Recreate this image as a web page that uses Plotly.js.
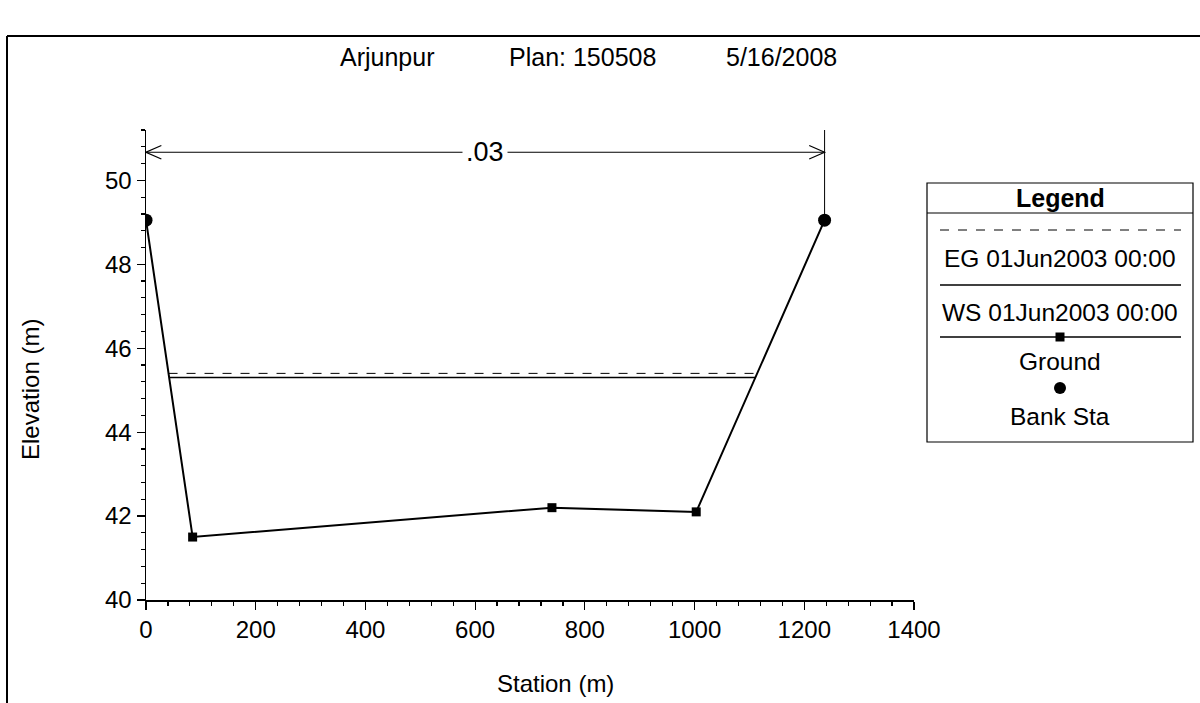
<!DOCTYPE html>
<html>
<head>
<meta charset="utf-8">
<script src="https://cdn.plot.ly/plotly-3.0.1.min.js"></script>
<style>html,body{margin:0;padding:0;background:#fff;}#chart{width:1200px;height:703px;}</style>
</head>
<body>
<div id="chart"></div>
<script>
// ---- data ----
const stations = [0, 85, 740, 1003, 1237];
const groundElev = [49.05, 41.5, 42.2, 42.1, 49.05];
const bankStations = [0, 1237];
const bankElev = [49.05, 49.05];
const wsElev = 45.3;
const egElev = 45.4;
const nValueLabel = ".03";
const nArrowElev = 50.67;
const xTickVals = [0, 200, 400, 600, 800, 1000, 1200, 1400];
const yTickVals = [40, 42, 44, 46, 48, 50];
const titleParts = ["Arjunpur", "Plan: 150508", "5/16/2008"];
const legendLabels = ["EG 01Jun2003 00:00", "WS 01Jun2003 00:00", "Ground", "Bank Sta"];

// ---- helpers ----
function crossings(level) {
  const pts = [];
  for (let i = 0; i < stations.length - 1; i++) {
    const z0 = groundElev[i], z1 = groundElev[i + 1];
    if ((z0 - level) * (z1 - level) <= 0 && z0 !== z1) {
      const t = (level - z0) / (z1 - z0);
      pts.push(stations[i] + t * (stations[i + 1] - stations[i]));
    }
  }
  return [Math.min(...pts), Math.max(...pts)];
}
const wsX = crossings(wsElev);
const egX = crossings(egElev);

const FONT = "Liberation Sans, Arial, sans-serif";
// pixel -> paper helpers (plot area: x 146..914, y 130..600)
const L = 146, R = 914, T = 130, B = 600;
const px = p => (p - L) / (R - L);
const py = p => (B - p) / (B - T);

const traces = [
  { x: egX, y: [egElev, egElev], mode: "lines", line: { color: "#000", width: 1, dash: "dash" }, hoverinfo: "skip" },
  { x: wsX, y: [wsElev, wsElev], mode: "lines", line: { color: "#000", width: 1.5 }, hoverinfo: "skip" },
  { x: stations, y: groundElev, mode: "lines+markers", line: { color: "#000", width: 2 },
    marker: { symbol: "square", size: 9, color: "#000" }, hoverinfo: "skip" },
  { x: bankStations, y: bankElev, mode: "markers", marker: { symbol: "circle", size: 13, color: "#000" }, hoverinfo: "skip" }
];

const shapes = [];
const annotations = [];
function note(x, y, text, size, extra) {
  annotations.push(Object.assign({ xref: "paper", yref: "paper", x: x, y: y, text: text, showarrow: false,
    xanchor: "center", yanchor: "middle", font: { family: FONT, size: size, color: "#000" } }, extra || {}));
}

// Manning's n arrow line
const nMid = (bankStations[0] + bankStations[1]) / 2;
shapes.push({ type: "line", xref: "x", yref: "y", x0: bankStations[0], x1: bankStations[1], y0: nArrowElev, y1: nArrowElev, line: { color: "#000", width: 1.2 } });
const hx = 28, hy = 0.16;
shapes.push({ type: "path", xref: "x", yref: "y",
  path: `M ${bankStations[0] + hx},${nArrowElev + hy} L ${bankStations[0]},${nArrowElev} L ${bankStations[0] + hx},${nArrowElev - hy}`,
  line: { color: "#000", width: 1.2 } });
shapes.push({ type: "path", xref: "x", yref: "y",
  path: `M ${bankStations[1] - hx},${nArrowElev + hy} L ${bankStations[1]},${nArrowElev} L ${bankStations[1] - hx},${nArrowElev - hy}`,
  line: { color: "#000", width: 1.2 } });
shapes.push({ type: "line", xref: "x", yref: "y", x0: bankStations[1], x1: bankStations[1], y0: bankElev[1], y1: 51.2, line: { color: "#000", width: 1 } });

annotations.push({ xref: "x", yref: "y", x: nMid, y: nArrowElev, text: nValueLabel, showarrow: false,
  xanchor: "center", yanchor: "middle",
  font: { family: FONT, size: 27, color: "#000" }, bgcolor: "#fff", borderpad: 3 });

// outer frame
shapes.push({ type: "line", xref: "paper", yref: "paper", x0: px(7), x1: px(1200), y0: py(36), y1: py(36), line: { color: "#000", width: 2 } });
shapes.push({ type: "line", xref: "paper", yref: "paper", x0: px(7), x1: px(7), y0: py(36), y1: py(703), line: { color: "#000", width: 2 } });

// title
const titleX = [387, 582, 781];
titleParts.forEach((t, i) => note(px(titleX[i]), py(57), t, 25));

// axis titles
note(px(30), py(390), "Elevation (m)", 24, { textangle: -90 });
note(px(555), py(683), "Station (m)", 24);

// custom legend
const lx0 = px(927), lx1 = px(1193);
shapes.push({ type: "rect", xref: "paper", yref: "paper", x0: lx0, x1: lx1, y0: py(442), y1: py(183), line: { color: "#000", width: 1.2 }, fillcolor: "#fff", layer: "below" });
shapes.push({ type: "line", xref: "paper", yref: "paper", x0: lx0, x1: lx1, y0: py(213), y1: py(213), line: { color: "#000", width: 1.2 } });
note(px(1060), py(198), "<b>Legend</b>", 25);
const sx0 = px(940), sx1 = px(1181), cx = px(1060);
shapes.push({ type: "line", xref: "paper", yref: "paper", x0: sx0, x1: sx1, y0: py(230), y1: py(230), line: { color: "#000", width: 1, dash: "dash" } });
shapes.push({ type: "line", xref: "paper", yref: "paper", x0: sx0, x1: sx1, y0: py(285), y1: py(285), line: { color: "#000", width: 1.5 } });
shapes.push({ type: "line", xref: "paper", yref: "paper", x0: sx0, x1: sx1, y0: py(337), y1: py(337), line: { color: "#000", width: 1.5 } });
shapes.push({ type: "rect", xref: "paper", yref: "paper", xsizemode: "pixel", ysizemode: "pixel", xanchor: cx, yanchor: py(337),
  x0: -4.5, x1: 4.5, y0: -4.5, y1: 4.5, fillcolor: "#000", line: { width: 0 } });
shapes.push({ type: "circle", xref: "paper", yref: "paper", xsizemode: "pixel", ysizemode: "pixel", xanchor: cx, yanchor: py(388),
  x0: -6, x1: 6, y0: -6, y1: 6, fillcolor: "#000", line: { width: 0 } });
const legY = [258, 312, 361, 416];
legendLabels.forEach((t, i) => note(cx, py(legY[i]), t, 24.5));

const layout = {
  width: 1200, height: 703,
  margin: { l: L, r: 1200 - R, t: T, b: 703 - B, pad: 0 },
  paper_bgcolor: "#fff", plot_bgcolor: "#fff",
  showlegend: false,
  font: { family: FONT, size: 24, color: "#000" },
  xaxis: {
    range: [0, 1400], tickvals: xTickVals, ticks: "outside", ticklen: 8, tickwidth: 1.2, tickcolor: "#000",
    showline: true, linecolor: "#000", linewidth: 1.5, showgrid: false, zeroline: false,
    minor: { dtick: 40, ticks: "outside", ticklen: 4, tickcolor: "#000", showgrid: false },
    tickfont: { family: FONT, size: 24, color: "#000" }
  },
  yaxis: {
    range: [40, 51.2], tickvals: yTickVals, ticks: "outside", ticklen: 8, tickwidth: 1.2, tickcolor: "#000",
    showline: true, linecolor: "#000", linewidth: 1.5, showgrid: false, zeroline: false,
    minor: { dtick: 0.4, ticks: "outside", ticklen: 4, tickcolor: "#000", showgrid: false },
    tickfont: { family: FONT, size: 24, color: "#000" }
  },
  shapes: shapes,
  annotations: annotations
};

Plotly.newPlot("chart", traces, layout, { staticPlot: true, displayModeBar: false });
</script>
</body>
</html>
